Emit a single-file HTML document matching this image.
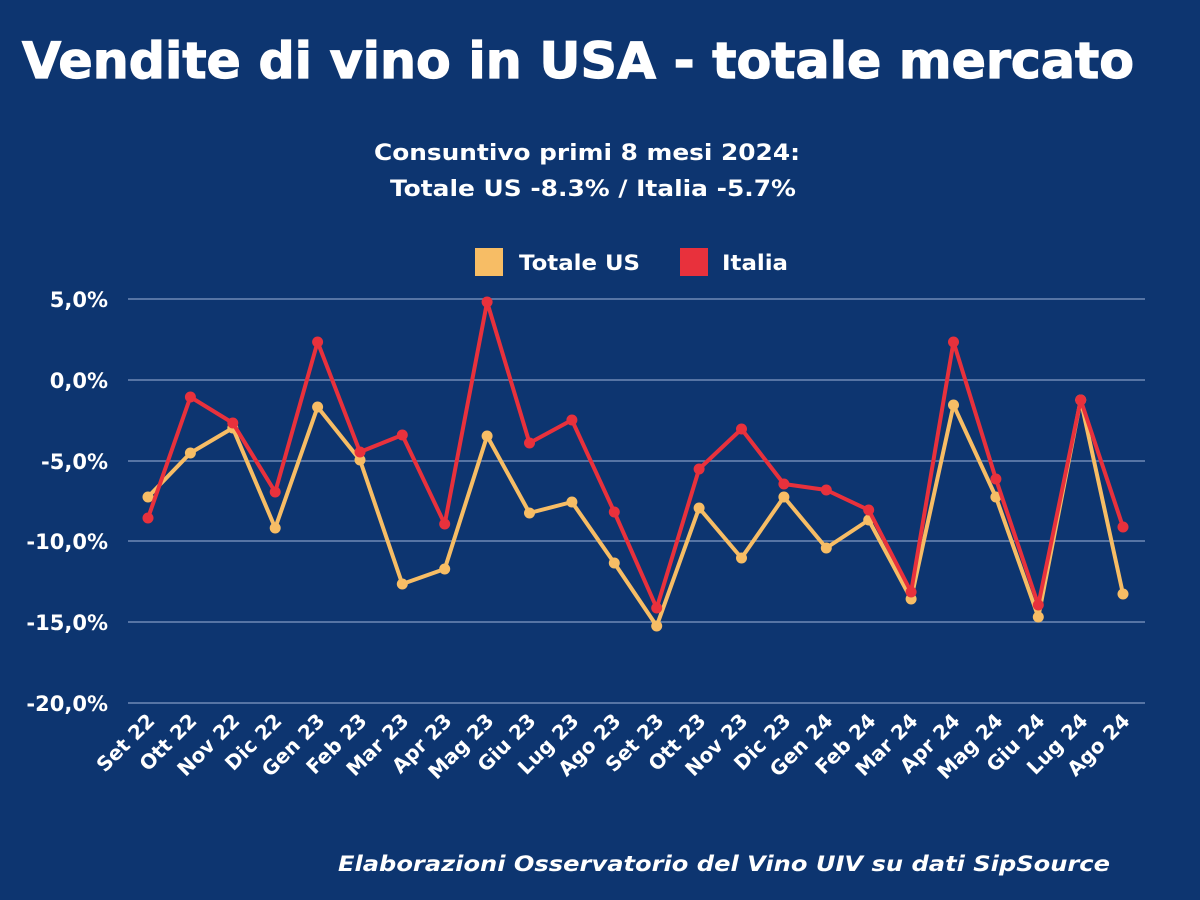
<!DOCTYPE html>
<html><head><meta charset="utf-8"><style>
html,body{margin:0;padding:0;background:#0d3570;}
svg{display:block}
text{font-family:"DejaVu Sans","Liberation Sans",sans-serif;font-weight:bold;fill:#fff}
</style></head><body>
<svg width="1200" height="900" viewBox="0 0 1200 900" xmlns="http://www.w3.org/2000/svg">
<rect width="1200" height="900" fill="#0d3570"/>
<text x="22" y="78" font-size="50" stroke="#fff" stroke-width="1.2" textLength="1112" lengthAdjust="spacingAndGlyphs">Vendite di vino in USA - totale mercato</text>
<text x="374" y="160" font-size="22" textLength="426" lengthAdjust="spacingAndGlyphs">Consuntivo primi 8 mesi 2024:</text>
<text x="390" y="196" font-size="22" textLength="406" lengthAdjust="spacingAndGlyphs">Totale US -8.3% / Italia -5.7%</text>
<rect x="475" y="248" width="28" height="28" fill="#f7bd65"/>
<text x="519" y="270" font-size="21" textLength="121" lengthAdjust="spacingAndGlyphs">Totale US</text>
<rect x="680" y="248" width="28" height="28" fill="#e8313c"/>
<text x="722" y="270" font-size="21" textLength="66" lengthAdjust="spacingAndGlyphs">Italia</text>
<g stroke="#6f8ab5" stroke-width="1.5">
<line x1="128" x2="1145" y1="299" y2="299"/><line x1="128" x2="1145" y1="380" y2="380"/>
<line x1="128" x2="1145" y1="461" y2="461"/><line x1="128" x2="1145" y1="541" y2="541"/>
<line x1="128" x2="1145" y1="622" y2="622"/><line x1="128" x2="1145" y1="703" y2="703"/>
</g>
<g font-size="21" text-anchor="end">
<text x="108" y="307">5,0%</text><text x="108" y="388">0,0%</text><text x="108" y="469">-5,0%</text>
<text x="108" y="549">-10,0%</text><text x="108" y="630">-15,0%</text><text x="108" y="711">-20,0%</text>
</g>
<polyline fill="none" stroke="#f7bd65" stroke-width="4" stroke-linejoin="round" points="148,497 190.4,453 232.8,428 275.2,528 317.6,407 360,460 402.3,584 444.7,569 487.1,436 529.5,513 571.9,502 614.3,563 656.7,626 699.1,508 741.5,558 783.9,497 826.3,548 868.7,520 911.1,599 953.5,405 995.9,497 1038.3,617 1080.7,400 1123,594"/>
<g fill="#f7bd65">
<circle cx="148" cy="497" r="5.5"/><circle cx="190.4" cy="453" r="5.5"/><circle cx="232.8" cy="428" r="5.5"/><circle cx="275.2" cy="528" r="5.5"/><circle cx="317.6" cy="407" r="5.5"/><circle cx="360" cy="460" r="5.5"/><circle cx="402.3" cy="584" r="5.5"/><circle cx="444.7" cy="569" r="5.5"/><circle cx="487.1" cy="436" r="5.5"/><circle cx="529.5" cy="513" r="5.5"/><circle cx="571.9" cy="502" r="5.5"/><circle cx="614.3" cy="563" r="5.5"/><circle cx="656.7" cy="626" r="5.5"/><circle cx="699.1" cy="508" r="5.5"/><circle cx="741.5" cy="558" r="5.5"/><circle cx="783.9" cy="497" r="5.5"/><circle cx="826.3" cy="548" r="5.5"/><circle cx="868.7" cy="520" r="5.5"/><circle cx="911.1" cy="599" r="5.5"/><circle cx="953.5" cy="405" r="5.5"/><circle cx="995.9" cy="497" r="5.5"/><circle cx="1038.3" cy="617" r="5.5"/><circle cx="1080.7" cy="400" r="5.5"/><circle cx="1123" cy="594" r="5.5"/>
</g>
<polyline fill="none" stroke="#e8313c" stroke-width="4" stroke-linejoin="round" points="148,518 190.4,397 232.8,423 275.2,492 317.6,342 360,452 402.3,435 444.7,524 487.1,302 529.5,443 571.9,420 614.3,512 656.7,608 699.1,469 741.5,429 783.9,484 826.3,490 868.7,510 911.1,592 953.5,342 995.9,479 1038.3,605 1080.7,400 1123,527"/>
<g fill="#e8313c">
<circle cx="148" cy="518" r="5.5"/><circle cx="190.4" cy="397" r="5.5"/><circle cx="232.8" cy="423" r="5.5"/><circle cx="275.2" cy="492" r="5.5"/><circle cx="317.6" cy="342" r="5.5"/><circle cx="360" cy="452" r="5.5"/><circle cx="402.3" cy="435" r="5.5"/><circle cx="444.7" cy="524" r="5.5"/><circle cx="487.1" cy="302" r="5.5"/><circle cx="529.5" cy="443" r="5.5"/><circle cx="571.9" cy="420" r="5.5"/><circle cx="614.3" cy="512" r="5.5"/><circle cx="656.7" cy="608" r="5.5"/><circle cx="699.1" cy="469" r="5.5"/><circle cx="741.5" cy="429" r="5.5"/><circle cx="783.9" cy="484" r="5.5"/><circle cx="826.3" cy="490" r="5.5"/><circle cx="868.7" cy="510" r="5.5"/><circle cx="911.1" cy="592" r="5.5"/><circle cx="953.5" cy="342" r="5.5"/><circle cx="995.9" cy="479" r="5.5"/><circle cx="1038.3" cy="605" r="5.5"/><circle cx="1080.7" cy="400" r="5.5"/><circle cx="1123" cy="527" r="5.5"/>
</g>
<g font-size="20" text-anchor="end">
<text transform="translate(156,722) rotate(-45)">Set 22</text>
<text transform="translate(198,722) rotate(-45)">Ott 22</text>
<text transform="translate(241,722) rotate(-45)">Nov 22</text>
<text transform="translate(283,722) rotate(-45)">Dic 22</text>
<text transform="translate(326,722) rotate(-45)">Gen 23</text>
<text transform="translate(368,722) rotate(-45)">Feb 23</text>
<text transform="translate(410,722) rotate(-45)">Mar 23</text>
<text transform="translate(453,722) rotate(-45)">Apr 23</text>
<text transform="translate(495,722) rotate(-45)">Mag 23</text>
<text transform="translate(537,722) rotate(-45)">Giu 23</text>
<text transform="translate(580,722) rotate(-45)">Lug 23</text>
<text transform="translate(622,722) rotate(-45)">Ago 23</text>
<text transform="translate(665,722) rotate(-45)">Set 23</text>
<text transform="translate(707,722) rotate(-45)">Ott 23</text>
<text transform="translate(749,722) rotate(-45)">Nov 23</text>
<text transform="translate(792,722) rotate(-45)">Dic 23</text>
<text transform="translate(834,722) rotate(-45)">Gen 24</text>
<text transform="translate(877,722) rotate(-45)">Feb 24</text>
<text transform="translate(919,722) rotate(-45)">Mar 24</text>
<text transform="translate(961,722) rotate(-45)">Apr 24</text>
<text transform="translate(1004,722) rotate(-45)">Mag 24</text>
<text transform="translate(1046,722) rotate(-45)">Giu 24</text>
<text transform="translate(1089,722) rotate(-45)">Lug 24</text>
<text transform="translate(1131,722) rotate(-45)">Ago 24</text>
</g>
<text x="338" y="871" font-size="21" font-style="italic" textLength="772" lengthAdjust="spacingAndGlyphs">Elaborazioni Osservatorio del Vino UIV su dati SipSource</text>
</svg>
</body></html>
